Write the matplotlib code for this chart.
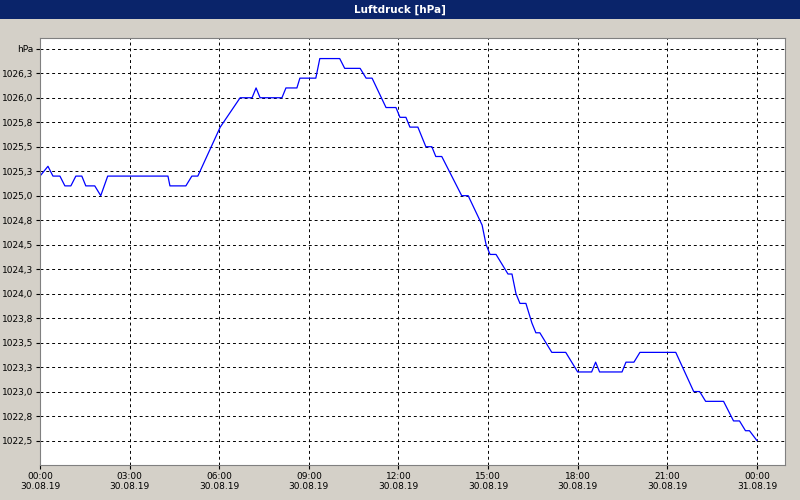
import numpy as np
import matplotlib
matplotlib.use("Agg")
import matplotlib.pyplot as plt
from matplotlib.patches import Rectangle
from decimal import Decimal, ROUND_HALF_UP

# readings (time of day, hPa)
times = ["00:00", "00:16", "00:26", "00:40", "00:50", "01:02", "01:12", "01:24", "01:32", "01:50",
         "02:02", "02:16", "04:17", "04:21", "04:53", "05:05", "05:17", "06:02", "06:42", "07:06",
         "07:14", "07:22", "08:06", "08:14", "08:36", "08:42", "09:14", "09:22", "10:02", "10:12",
         "10:43", "10:55", "11:07", "11:35", "11:55", "12:03", "12:15", "12:23", "12:39", "12:55",
         "13:07", "13:15", "13:27", "14:07", "14:20", "14:48", "14:56", "15:04", "15:16", "15:28",
         "15:40", "15:48", "15:56", "16:04", "16:16", "16:28", "16:36", "16:44", "17:08", "17:36",
         "18:00", "18:28", "18:36", "18:44", "19:29", "19:37", "19:53", "20:05", "21:17", "21:53",
         "22:05", "22:17", "22:53", "23:13", "23:25", "23:37", "23:45", "24:00"]
pressure = [1025.2, 1025.3, 1025.2, 1025.2, 1025.1, 1025.1, 1025.2, 1025.2, 1025.1, 1025.1,
            1025.0, 1025.2, 1025.2, 1025.1, 1025.1, 1025.2, 1025.2, 1025.7, 1026.0, 1026.0,
            1026.1, 1026.0, 1026.0, 1026.1, 1026.1, 1026.2, 1026.2, 1026.4, 1026.4, 1026.3,
            1026.3, 1026.2, 1026.2, 1025.9, 1025.9, 1025.8, 1025.8, 1025.7, 1025.7, 1025.5,
            1025.5, 1025.4, 1025.4, 1025.0, 1025.0, 1024.7, 1024.5, 1024.4, 1024.4, 1024.3,
            1024.2, 1024.2, 1024.0, 1023.9, 1023.9, 1023.7, 1023.6, 1023.6, 1023.4, 1023.4,
            1023.2, 1023.2, 1023.3, 1023.2, 1023.2, 1023.3, 1023.3, 1023.4, 1023.4, 1023.0,
            1023.0, 1022.9, 1022.9, 1022.7, 1022.7, 1022.6, 1022.6, 1022.5]
tick_hours = [0, 3, 6, 9, 12, 15, 18, 21, 24]
tick_labels = ["00:00\n30.08.19", "03:00\n30.08.19", "06:00\n30.08.19", "09:00\n30.08.19",
               "12:00\n30.08.19", "15:00\n30.08.19", "18:00\n30.08.19", "21:00\n30.08.19",
               "00:00\n31.08.19"]

hours = [int(t[:2]) + int(t[3:]) / 60 for t in times]

fig = plt.figure(figsize=(8, 5), dpi=100)
fig.patch.set_facecolor("#d4d0c8")
fig.patches.append(Rectangle((0, 481 / 500), 1, 19 / 500, transform=fig.transFigure,
                             facecolor="#0a246a", edgecolor="none"))
fig.text(0.5, 490.5 / 500, "Luftdruck [hPa]", color="white", fontsize=7.5,
         fontweight="bold", ha="center", va="center")

ax = fig.add_axes([40 / 800, 35 / 500, 745 / 800, 427 / 500])
ax.plot(hours, pressure, color="blue", lw=0.9)
ax.set_xlim(0, 24.94)
ax.set_ylim(1022.25, 1026.61)


def fmt(v):
    d = Decimal(str(round(v, 2))).quantize(Decimal("0.1"), rounding=ROUND_HALF_UP)
    return str(d).replace(".", ",")


yt = np.arange(1022.5, 1026.51, 0.25)
ax.set_yticks(yt)
ax.set_yticklabels([fmt(v) for v in yt[:-1]] + ["hPa"])
ax.set_xticks(tick_hours)
ax.set_xticklabels(tick_labels)
ax.tick_params(labelsize=6.5, length=3, pad=2, color="black")
ax.grid(True, color="black", linestyle=(0, (3, 3)), lw=0.7)
for s in ax.spines.values():
    s.set_color("#808080")

fig.savefig("out.png", dpi=100, facecolor=fig.get_facecolor())
